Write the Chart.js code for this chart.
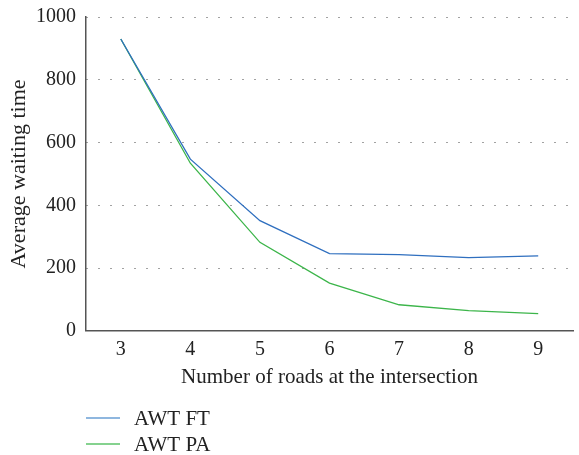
<!DOCTYPE html>
<html>
<head>
<meta charset="utf-8">
<script src="https://cdn.jsdelivr.net/npm/chart.js@4"></script>
<style>
html,body{margin:0;padding:0;background:#fff;}
#wrap{width:579px;height:455px;position:relative;}
</style>
</head>
<body>
<div id="wrap"><canvas id="c" width="579" height="455"></canvas></div>
<script>
const categories = ['3','4','5','6','7','8','9'];
const awtFT = [930, 547, 351, 246, 243, 233, 239];
const awtPA = [930, 534, 282, 152, 83, 64, 55];
const yTicks = [0, 200, 400, 600, 800, 1000];
const seriesNames = ['AWT FT', 'AWT PA'];
const xTitle = 'Number of roads at the intersection';
const yTitle = 'Average waiting time';

const FONT = "'Liberation Serif', 'DejaVu Serif', serif";
const TXT = '#222';

const legendPlugin = {
  id: 'vlegend',
  afterDraw(chart) {
    const ctx = chart.ctx;
    const left = chart.chartArea.left;
    const rows = [418, 444];
    ctx.save();
    chart.data.datasets.forEach((ds, i) => {
      const y = rows[i];
      ctx.strokeStyle = ds.legendColor;
      ctx.lineWidth = 1.5;
      ctx.beginPath();
      ctx.moveTo(left, y);
      ctx.lineTo(left + 34, y);
      ctx.stroke();
      ctx.fillStyle = TXT;
      ctx.font = '21px ' + FONT;
      ctx.textBaseline = 'middle';
      ctx.textAlign = 'left';
      ctx.fillText(ds.label, left + 48, y + 1);
    });
    ctx.restore();
  }
};

new Chart(document.getElementById('c'), {
  type: 'line',
  data: {
    labels: categories,
    datasets: [
      { label: seriesNames[0], data: awtFT, borderColor: '#2f6fbf', legendColor: '#6a9fd4', borderWidth: 1.3, pointRadius: 0, tension: 0, fill: false },
      { label: seriesNames[1], data: awtPA, borderColor: '#3cb54a', legendColor: '#5cc36a', borderWidth: 1.3, pointRadius: 0, tension: 0, fill: false }
    ]
  },
  options: {
    responsive: false,
    animation: false,
    devicePixelRatio: 1,
    layout: { padding: { top: 0, right: 6, bottom: 65, left: 0 } },
    plugins: { legend: { display: false }, tooltip: { enabled: false } },
    scales: {
      x: {
        offset: true,
        grid: { display: false, drawTicks: false },
        border: { display: true, color: '#555', width: 1.5 },
        ticks: { color: TXT, font: { family: FONT, size: 20 }, padding: 7 },
        title: { display: true, text: xTitle, color: TXT, font: { family: FONT, size: 21 }, padding: { top: -4, bottom: 0 } }
      },
      y: {
        min: 0, max: 1000,
        afterBuildTicks(axis) { axis.ticks = yTicks.map(v => ({ value: v })); },
        afterFit(scale) { scale.width = 86; scale.paddingTop = 17; },
        grid: { display: true, drawTicks: false, color: '#444', lineWidth: 1 },
        border: { display: true, color: '#555', width: 1.5, dash: [1, 11] },
        ticks: { color: TXT, font: { family: FONT, size: 20 }, padding: 10, callback: v => String(v) },
        title: { display: true, text: yTitle, color: TXT, font: { family: FONT, size: 22 }, padding: { top: 6, bottom: 2 } }
      }
    }
  },
  plugins: [legendPlugin]
});
</script>
</body>
</html>
